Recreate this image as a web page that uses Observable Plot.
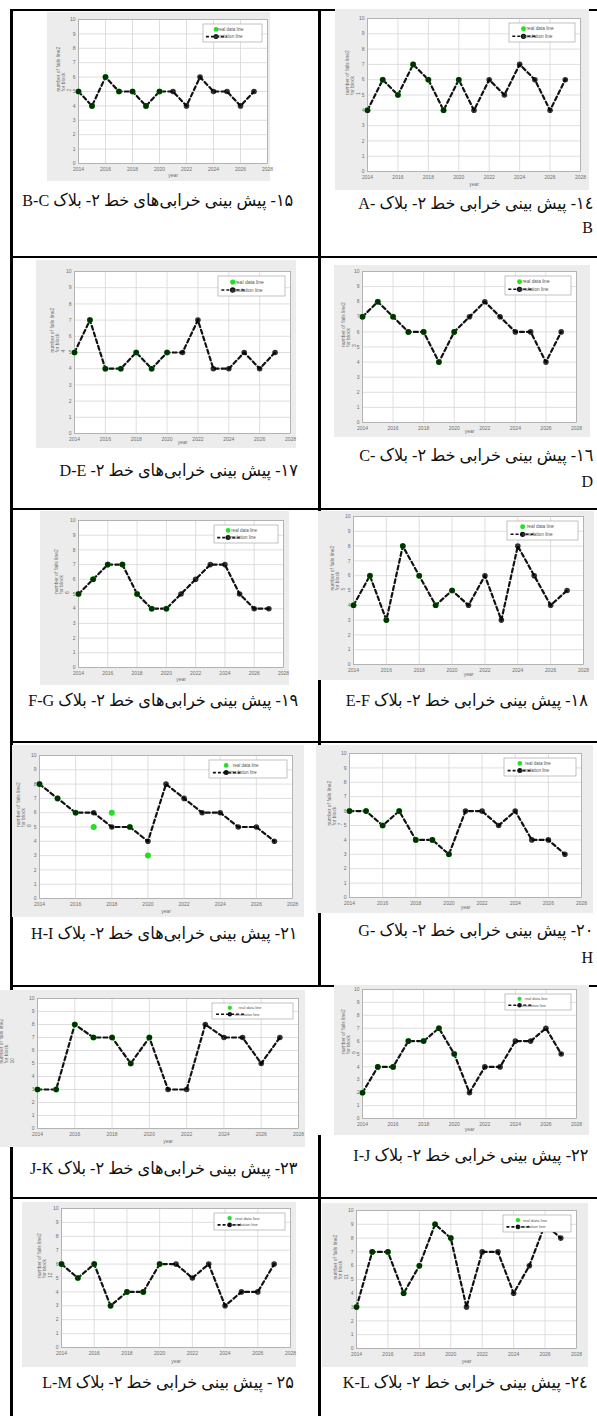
<!DOCTYPE html>
<html><head><meta charset="utf-8">
<script src="https://cdn.jsdelivr.net/npm/d3@7"></script>
<script src="https://cdn.jsdelivr.net/npm/@observablehq/plot@0.6"></script>
<style>
body{margin:0;background:#fff;}
#page{position:relative;width:597px;height:1416px;overflow:hidden;background:#fff;}
.ln{position:absolute;background:#000;}
.chart{position:absolute;}
.chart svg{display:block;}
.cap{position:absolute;direction:rtl;white-space:nowrap;font-family:"Liberation Serif","DejaVu Sans",serif;color:#111;line-height:1;transform-origin:100% 50%;}
</style></head><body><div id="page"></div>
<script>
// ---- data ----
const years = [2014,2015,2016,2017,2018,2019,2020,2021,2022,2023,2024,2025,2026,2027];
const realYears = [2014,2015,2016,2017,2018,2019,2020];
const xTicks = [2014,2016,2018,2020,2022,2024,2026,2028];
const yTicks = [0,1,2,3,4,5,6,7,8,9,10];

const sim1  = [4,6,5,7,6,4,6,4,6,5,7,6,4,6];
const sim2  = [5,4,6,5,5,4,5,5,4,6,5,5,4,5];
const sim3  = [7,8,7,6,6,4,6,7,8,7,6,6,4,6];
const sim4  = [5,7,4,4,5,4,5,5,7,4,4,5,4,5];
const sim5  = [4,6,3,8,6,4,5,4,6,3,8,6,4,5];
const sim6  = [5,6,7,7,5,4,4,5,6,7,7,5,4,4];
const sim7  = [6,6,5,6,4,4,3,6,6,5,6,4,4,3];
const sim8  = [8,7,6,6,5,5,4,8,7,6,6,5,5,4];
const sim9  = [2,4,4,6,6,7,5,2,4,4,6,6,7,5];
const sim10 = [3,3,8,7,7,5,7,3,3,8,7,7,5,7];
const sim11 = [3,7,7,4,6,9,8,3,7,7,4,6,9,8];
const sim12 = [6,5,6,3,4,4,6,6,5,6,3,4,4,6];

const real1  = [4,6,5,7,6,4,6];
const real2  = [5,4,6,5,5,4,5];
const real3  = [7,8,7,6,6,4,6];
const real4  = [5,7,4,4,5,4,5];
const real5  = [4,6,3,8,6,4,5];
const real6  = [5,6,7,7,5,4,4];
const real7  = [6,6,5,6,4,4,3];
const real8  = [8,7,6,5,6,5,3];
const real9  = [2,4,4,6,6,7,5];
const real10 = [3,3,8,7,7,5,7];
const real11 = [3,7,7,4,6,9,8];
const real12 = [6,5,6,3,4,4,6];

const simSeries  = {1:sim1,2:sim2,3:sim3,4:sim4,5:sim5,6:sim6,7:sim7,8:sim8,9:sim9,10:sim10,11:sim11,12:sim12};
const realSeries = {1:real1,2:real2,3:real3,4:real4,5:real5,6:real6,7:real7,8:real8,9:real9,10:real10,11:real11,12:real12};

const legendLabels = ["real data line", "simulation line"];
const xLabel = "year";
const yLabelText = n => `number of fails line2\nfor block\n${n}`;

const LRI = "\u2066", PDI = "\u2069";
const captions = [
  {text: "۱۵- پیش بینی خرابی‌های خط ۲- بلاک B-C", rx: 293, cy: 200, ref: true},
  {text: "۱٤- پیش بینی خرابی خط ۲- بلاک " + LRI + "A-" + PDI, rx: 593, cy: 203},
  {text: "B", rx: 593, cy: 228, letter: true},
  {text: "۱۷- پیش بینی خرابی‌های خط ۲- D-E", rx: 298, cy: 470},
  {text: "۱٦- پیش بینی خرابی خط ۲- بلاک " + LRI + "C-" + PDI, rx: 593, cy: 455},
  {text: "D", rx: 593, cy: 482, letter: true},
  {text: "۱۹- پیش بینی خرابی‌های خط ۲- بلاک F-G", rx: 298, cy: 700},
  {text: "۱۸- پیش بینی خرابی خط ۲- بلاک E-F", rx: 588, cy: 700},
  {text: "۲۱- پیش بینی خرابی‌های خط ۲- بلاک H-I", rx: 297, cy: 933},
  {text: "۲۰- پیش بینی خرابی خط ۲- بلاک " + LRI + "G-" + PDI, rx: 593, cy: 930},
  {text: "H", rx: 593, cy: 958, letter: true},
  {text: "۲۳- پیش بینی خرابی‌های خط ۲- بلاک J-K", rx: 297, cy: 1168},
  {text: "۲۲- پیش بینی خرابی خط ۲- بلاک I-J", rx: 588, cy: 1155},
  {text: "۲۵ - پیش بینی خرابی خط ۲- بلاک L-M", rx: 294, cy: 1382},
  {text: "۲٤- پیش بینی خرابی خط ۲- بلاک K-L", rx: 588, cy: 1382}
];

// ---- layout (panel boxes of each chart image) ----
const panels = [
  {block:1,  x:335, y:9,    w:254, h:181, ml:32, mr:9,  mt:9,  mb:19, yl:-15},
  {block:2,  x:47,  y:12,   w:223, h:169, ml:31, mr:3,  mt:7,  mb:18, yl:-15},
  {block:3,  x:334, y:265,  w:256, h:172, ml:28, mr:14, mt:6,  mb:15, yl:-14},
  {block:4,  x:36,  y:260,  w:260, h:188, ml:38, mr:6,  mt:11, mb:15, yl:-17},
  {block:5,  x:318, y:511,  w:276, h:169, ml:35, mr:11, mt:5,  mb:16, yl:-16},
  {block:6,  x:40,  y:511,  w:249, h:174, ml:38, mr:6,  mt:9,  mb:18, yl:-17},
  {block:7,  x:316, y:745,  w:277, h:168, ml:33, mr:12, mt:8,  mb:16, yl:-15},
  {block:8,  x:12,  y:745,  w:292, h:172, ml:27, mr:12, mt:10, mb:19, yl:-16},
  {block:9,  x:334, y:985,  w:255, h:150, ml:28, mr:13, mt:4,  mb:17, yl:-14},
  {block:10, x:-12, y:990,  w:317, h:157, ml:49, mr:7,  mt:8,  mb:19, yl:-31},
  {block:11, x:322, y:1203, w:266, h:164, ml:34, mr:12, mt:7,  mb:19, yl:-16},
  {block:12, x:22,  y:1202, w:274, h:165, ml:39, mr:6,  mt:6,  mb:20, yl:-17}
];

const page = document.getElementById("page");

// table rules
const rules = [
  {x:10, y:9, w:587, h:2}, {x:10, y:256, w:587, h:2}, {x:10, y:508, w:587, h:2},
  {x:10, y:741, w:587, h:2}, {x:10, y:985, w:587, h:2}, {x:10, y:1197, w:587, h:2},
  {x:10, y:9, w:3, h:1407},
  {x:318, y:9, w:3, h:978}, {x:318, y:1135, w:3, h:281}
];
for (const r of rules) {
  const d = document.createElement("div");
  d.className = "ln";
  Object.assign(d.style, {left: r.x+"px", top: r.y+"px", width: r.w+"px", height: r.h+"px"});
  page.appendChild(d);
}

function addLegend(svg, p) {
  const pw = p.w - p.ml - p.mr, ph = p.h - p.mt - p.mb;
  const lw = Math.round(pw * 0.31), lh = Math.round(ph * 0.125);
  const x0 = p.w - p.mr - 5 - lw, y0 = p.mt + 5;
  const fs = Math.max(3.8, lh * 0.25);
  const g = d3.select(svg).append("g");
  g.append("rect").attr("x", x0).attr("y", y0).attr("width", lw).attr("height", lh)
    .attr("fill", "#fff").attr("stroke", "#9a9a9a").attr("stroke-width", 0.6);
  const r1 = y0 + lh * 0.3, r2 = y0 + lh * 0.7, mx = x0 + lw * 0.22;
  g.append("circle").attr("cx", mx).attr("cy", r1).attr("r", lh * 0.13).attr("fill", "#22e022");
  g.append("line").attr("x1", x0 + lw * 0.05).attr("x2", x0 + lw * 0.4).attr("y1", r2).attr("y2", r2)
    .attr("stroke", "#111").attr("stroke-width", 1.6).attr("stroke-dasharray", "3,2");
  g.append("circle").attr("cx", mx).attr("cy", r2).attr("r", lh * 0.14).attr("fill", "#111");
  g.append("text").attr("x", x0 + lw * 0.47).attr("y", r1).attr("dominant-baseline", "central")
    .attr("font-size", fs).attr("fill", "#555").text(legendLabels[0]);
  g.append("text").attr("x", x0 + lw * 0.43).attr("y", r2).attr("dominant-baseline", "central")
    .attr("font-size", fs).attr("fill", "#555").text(legendLabels[1]);
}

for (const p of panels) {
  const simData = years.map((x, i) => ({x, y: simSeries[p.block][i]}));
  const realData = realYears.map((x, i) => ({x, y: realSeries[p.block][i]}));
  const svg = Plot.plot({
    width: p.w, height: p.h,
    marginLeft: p.ml, marginRight: p.mr, marginTop: p.mt, marginBottom: p.mb,
    style: {background: "#ececec", fontFamily: "'Liberation Sans', Arial, sans-serif", fontSize: "5px", color: "#707070", maxWidth: "none", overflow: "visible"},
    x: {domain: [2014, 2028]},
    y: {domain: [0, 10]},
    marks: [
      Plot.frame({fill: "#fff", stroke: "none"}),
      Plot.gridX(xTicks, {stroke: "#d6d6d6", strokeOpacity: 1, strokeWidth: 0.8}),
      Plot.gridY(yTicks, {stroke: "#d6d6d6", strokeOpacity: 1, strokeWidth: 0.8}),
      Plot.frame({stroke: "#aaaaaa", strokeWidth: 0.8}),
      Plot.axisX(xTicks, {tickSize: 0, tickPadding: 4, tickFormat: d => String(d), label: null}),
      Plot.axisY(yTicks, {tickSize: 0, tickPadding: 3, label: null}),
      Plot.text([xLabel], {text: d => d, frameAnchor: "bottom", dy: p.mb - 5, fill: "#707070"}),
      Plot.text([yLabelText(p.block)], {text: d => d, frameAnchor: "left", rotate: -90, dx: p.yl, lineHeight: 1.15, fill: "#707070"}),
      Plot.line(simData, {x: "x", y: "y", stroke: "#111", strokeWidth: 2.2, strokeDasharray: "4,3"}),
      Plot.dot(realData, {x: "x", y: "y", fill: "#22e022", r: 3}),
      Plot.dot(simData, {x: "x", y: "y", fill: "#000", fillOpacity: 0.8, r: 2.8})
    ]
  });
  addLegend(svg, p);
  const div = document.createElement("div");
  div.className = "chart";
  Object.assign(div.style, {left: p.x + "px", top: p.y + "px", width: p.w + "px", height: p.h + "px"});
  div.appendChild(svg);
  page.appendChild(div);
}

// captions: 17px text, scaled horizontally by one common factor so the first caption spans 22..293
const CAP_PX = 17;
const refCap = captions.find(c => c.ref);
const probe = document.createElement("span");
probe.className = "cap";
probe.style.fontSize = CAP_PX + "px";
probe.textContent = refCap.text;
page.appendChild(probe);
const squeeze = (293 - 22) / probe.getBoundingClientRect().width;
probe.remove();

for (const c of captions) {
  const s = document.createElement("span");
  s.className = "cap";
  s.textContent = c.text;
  s.style.fontSize = (c.letter ? 16 : CAP_PX) + "px";
  page.appendChild(s);
  const b = s.getBoundingClientRect();
  s.style.left = (c.rx - b.width) + "px";
  s.style.top = (c.cy - b.height / 2) + "px";
  if (!c.letter) s.style.transform = `scaleX(${squeeze})`;
}
</script>
</body></html>
